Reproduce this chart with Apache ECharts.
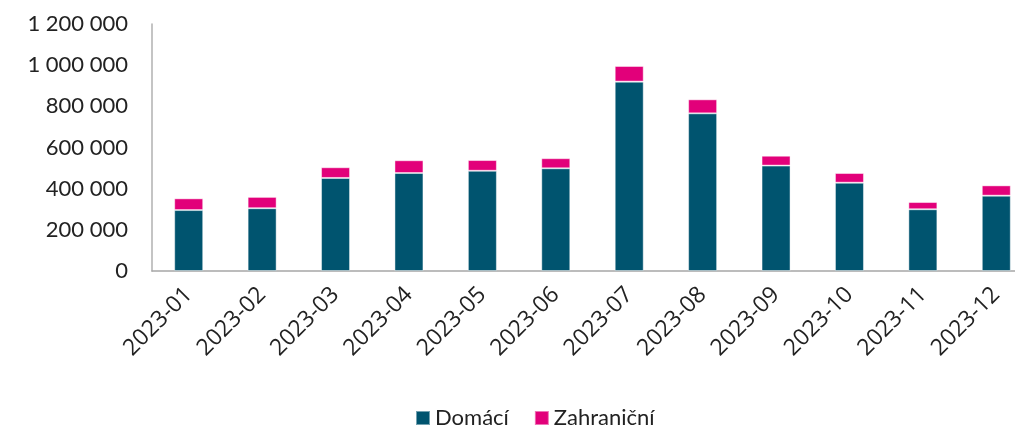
<!DOCTYPE html>
<html>
<head>
<meta charset="utf-8">
<script src="https://cdn.jsdelivr.net/npm/echarts@6/dist/echarts.min.js"></script>
<style>
  html, body { margin: 0; padding: 0; background: #fff; }
  #chart { width: 1015px; height: 426px; }
</style>
</head>
<body>
<div id="chart"></div>
<script>
// měsíce a hodnoty
const months = ['2023-01', '2023-02', '2023-03', '2023-04', '2023-05', '2023-06',
  '2023-07', '2023-08', '2023-09', '2023-10', '2023-11', '2023-12'];
const domaci = [296000, 305000, 452000, 476000, 487000, 499000, 920000, 766000, 512000, 429000, 300000, 366000];
const zahranicni = [57000, 55000, 52000, 62000, 52000, 49000, 76000, 68000, 48000, 47000, 35000, 50000];
const yTicks = [0, 200000, 400000, 600000, 800000, 1000000, 1200000];

const fmt = v => String(v).replace(/\B(?=(\d{3})+(?!\d))/g, ' ');

const chart = echarts.init(document.getElementById('chart'));

const option = {
  animation: false,
  grid: { left: 152, top: 24, right: -18, bottom: 155, containLabel: false, outerBoundsMode: 'none' },
  legend: {
    left: 410,
    top: 402,
    itemWidth: 14,
    itemHeight: 14,
    itemGap: 25,
    icon: 'rect',
    textStyle: { fontFamily: 'Lato', fontSize: 22, color: '#222' },
    data: ['Domácí', 'Zahraniční']
  },
  xAxis: {
    type: 'category',
    data: months,
    axisLine: { lineStyle: { color: '#a6a6a6', width: 1.5 } },
    axisTick: { show: false },
    axisLabel: {
      rotate: 45,
      margin: 20,
      interval: 0,
      fontFamily: 'Open Sans',
      fontSize: 23,
      color: '#222'
    }
  },
  yAxis: {
    type: 'value',
    min: yTicks[0],
    max: yTicks[yTicks.length - 1],
    interval: 200000,
    splitLine: { show: false },
    axisLine: { show: true, lineStyle: { color: '#b0b0b0', width: 1.5 } },
    axisTick: { show: false },
    axisLabel: {
      margin: 24,
      fontFamily: 'Lato',
      fontSize: 22,
      color: '#222',
      formatter: v => fmt(v)
    }
  },
  series: [
    {
      name: 'Domácí',
      type: 'bar',
      stack: 'total',
      barWidth: 29,
      data: domaci,
      itemStyle: { color: '#00546f', borderColor: 'rgba(255,255,255,0.45)', borderWidth: 1 }
    },
    {
      name: 'Zahraniční',
      type: 'bar',
      stack: 'total',
      barWidth: 29,
      data: zahranicni,
      itemStyle: { color: '#e2007a', borderColor: 'rgba(255,255,255,0.45)', borderWidth: 1 }
    }
  ]
};

chart.setOption(option);
</script>
</body>
</html>
